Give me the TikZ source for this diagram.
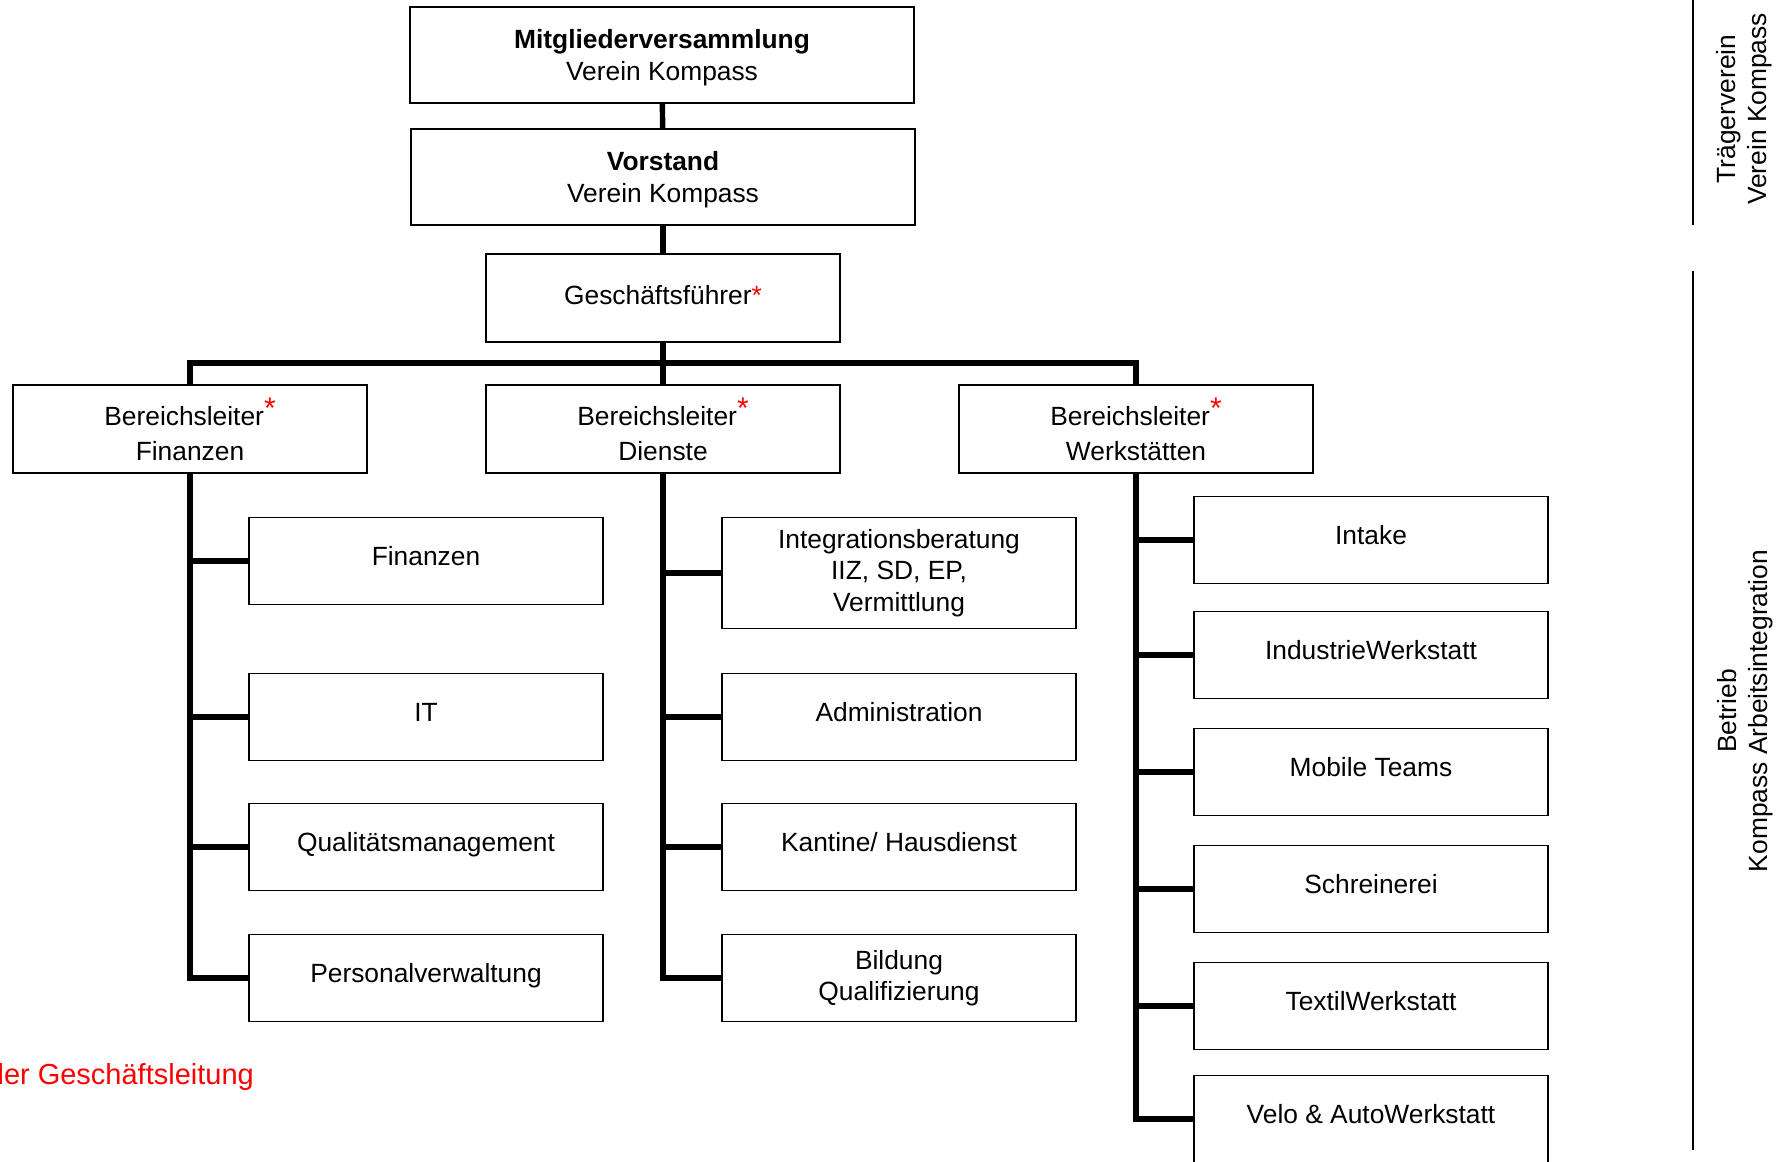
\documentclass[tikz,border=0pt]{standalone}
\usepackage{fontspec}
\setmainfont{Liberation Sans}
\usetikzlibrary{positioning}
\usepackage{xcolor}
\definecolor{starcolor}{RGB}{255,0,0}

\newcommand{\gfstar}{{\color{starcolor}*}}
\newcommand{\blstar}{{\color{starcolor}\raisebox{4pt}{\fontsize{17}{18}\selectfont *}}}
\newcommand{\topstrut}{\rule{0pt}{14pt}}

\begin{document}
\begin{tikzpicture}[x=0.02cm, y=-0.02cm, every node/.style={font=\fontsize{15}{18}\selectfont},
    unit/.style={draw, line width=1pt, minimum width=7.08cm, minimum height=1.76cm, inner sep=2pt, align=center},
    board/.style={unit, minimum width=10.08cm, minimum height=1.92cm},
    lead/.style={unit, font=\fontsize{15}{20}\selectfont},
    sub/.style={unit, minimum height=1.74cm},
    lift/.style={text height=11pt, text depth=6.4pt},
    link/.style={line width=3.1pt},
    side/.style={line width=0.9pt},
    sidetext/.style={rotate=90, align=center}]
    \useasboundingbox (0,0) rectangle (1792,1162);

    % Verein
    \node[board] (mv) at (662, 55) {\topstrut\textbf{Mitgliederversammlung}\\Verein Kompass};
    \node[board] (vs) at (663, 177) {\topstrut\textbf{Vorstand}\\Verein Kompass};
    \node[unit, text height=11pt, text depth=4pt] (gf) at (663, 298) {Geschäftsführer\gfstar};
    \coordinate (bus) at (663, 363);

    % Bereichsleiter
    \node[lead] (blfin) at (190, 429) {Bereichsleiter\blstar\\Finanzen};
    \node[lead] (bldie) at (663, 429) {Bereichsleiter\blstar\\Dienste};
    \node[lead] (blwerk) at (1136, 429) {Bereichsleiter\blstar\\Werkstätten};

    \draw[link] (mv) -- (vs);
    \draw[link] (vs) -- (gf);
    \draw[link] (gf) -- (bus);
    \draw[link] (bus) -| (blfin.north);
    \draw[link] (bus) -- (bldie.north);
    \draw[link] (bus) -| (blwerk.north);

    % Finanzen
    \node[sub, lift] (fin) at (426, 561) {Finanzen};
    \node[sub, lift] (it) at (426, 717) {IT};
    \node[sub, lift] (qm) at (426, 847) {Qualitätsmanagement};
    \node[sub, lift] (pv) at (426, 978) {Personalverwaltung};

    % Dienste
    \node[sub, minimum height=2.22cm] (ib) at (899, 573) {Integrationsberatung\\IIZ, SD, EP,\\Vermittlung};
    \node[sub, lift] (adm) at (899, 717) {Administration};
    \node[sub, lift] (kh) at (899, 847) {Kantine/ Hausdienst};
    \node[sub] (bq) at (899, 978) {Bildung\\Qualifizierung};

    % Werkstaetten
    \node[sub, lift] (intake) at (1371, 540) {Intake};
    \node[sub, lift] (iw) at (1371, 655) {IndustrieWerkstatt};
    \node[sub, lift] (mt) at (1371, 772) {Mobile Teams};
    \node[sub, lift] (sr) at (1371, 889) {Schreinerei};
    \node[sub, lift] (tw) at (1371, 1006) {TextilWerkstatt};
    \node[sub, lift] (va) at (1371, 1119) {Velo \& AutoWerkstatt};

    \foreach \c in {fin, it, qm, pv}
        \draw[link] (blfin.south) |- (\c.west);
    \foreach \c in {ib, adm, kh, bq}
        \draw[link] (bldie.south) |- (\c.west);
    \foreach \c in {intake, iw, mt, sr, tw, va}
        \draw[link] (blwerk.south) |- (\c.west);

    \node[anchor=east, text=starcolor, font=\fontsize{16.5}{18}\selectfont] (note) at (260, 1077) {der Geschäftsleitung};

    % Seitenleiste
    \coordinate (tv1) at (1693, 0);
    \coordinate (tv2) at (1693, 225);
    \coordinate (kb1) at (1693, 271);
    \coordinate (kb2) at (1693, 1150);
    \draw[side] (tv1) -- (tv2);
    \draw[side] (kb1) -- (kb2);
    \node[sidetext] (tvtext) at (1744, 109) {Trägerverein\\Verein Kompass};
    \node[sidetext] (kbtext) at (1745, 711) {Betrieb\\Kompass Arbeitsintegration};
\end{tikzpicture}
\end{document}
